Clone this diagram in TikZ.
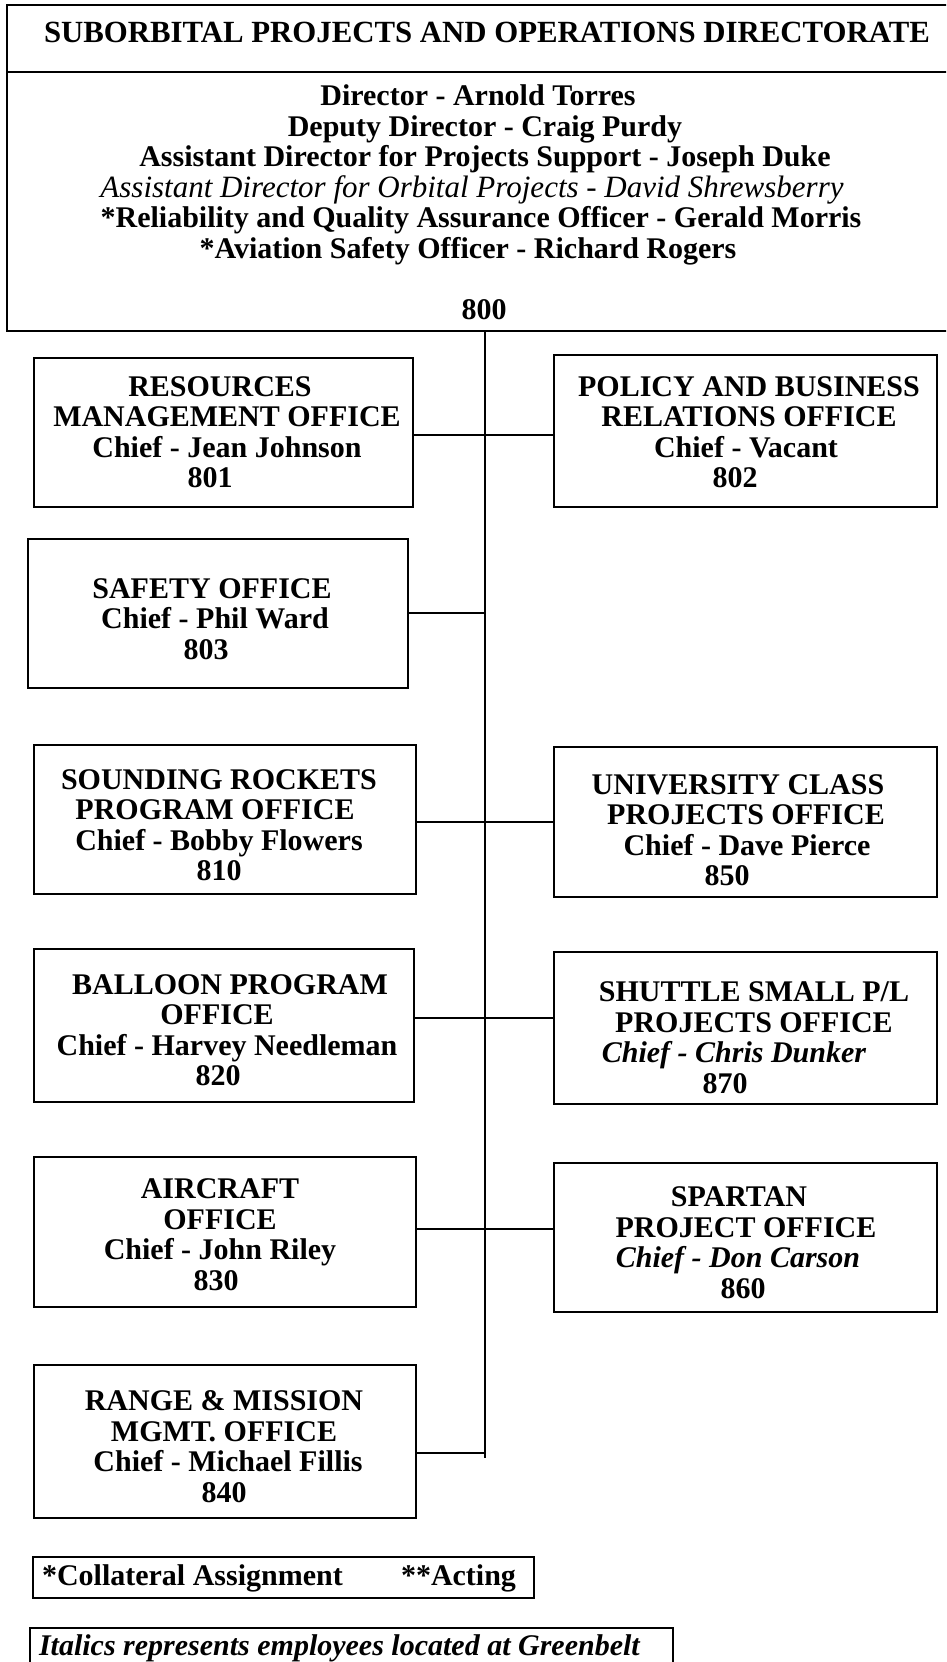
\documentclass[tikz,border=0pt]{standalone}
\usepackage{fontspec}
\setmainfont{Liberation Serif}
\newcommand\itl[1]{{\mdseries\itshape #1}}
\newcommand\itb[1]{{\itshape #1}}
\begin{document}
\begin{tikzpicture}[x=1pt,y=-1pt,
  every node/.style={inner sep=0pt,outer sep=0pt},
  box/.style={draw,line width=2.2pt,rectangle,inner sep=0pt},
  topbox/.style={draw,line width=2.4pt,rectangle,inner sep=0pt},
  txt/.style={align=center,font=\fontsize{30}{30.5}\selectfont\bfseries},
  conn/.style={line width=2pt}]
\useasboundingbox (0,0) rectangle (946,1662);
\fill[white] (0,0) rectangle (946,1662);
\clip (0,0) rectangle (946,1662);

% top directorate box
\node[topbox,minimum width=956,minimum height=326] (top) at (485,168) {};
\coordinate (div) at (0,72);
\draw[line width=2.4pt] (top.west |- div) -- (top.east |- div);
\node[txt,anchor=base,font=\fontsize{30.8}{31}\selectfont\bfseries] (title) at (487,43) {SUBORBITAL PROJECTS AND OPERATIONS DIRECTORATE};
\node[txt] (toptext) at (481,202) {Director - Arnold Torres\kern6pt\\
\kern8pt Deputy Director - Craig Purdy\\
\kern8pt Assistant Director for Projects Support - Joseph Duke\\
{\fontsize{31}{30.5}\selectfont\itl{Assistant Director for Orbital Projects - David Shrewsberry}}\kern18pt\\
*Reliability and Quality Assurance Officer - Gerald Morris\\
*Aviation Safety Officer - Richard Rogers\kern26pt\\[30.5pt]
\kern6pt 800};

% office boxes
\node[box,minimum width=379,minimum height=149] (b801) at (223.5,432.5) {};
\node[box,minimum width=383,minimum height=152] (b802) at (745.5,431) {};
\node[box,minimum width=380,minimum height=149] (b803) at (218,613.5) {};
\node[box,minimum width=382,minimum height=149] (b810) at (225,819.5) {};
\node[box,minimum width=383,minimum height=150] (b850) at (745.5,822) {};
\node[box,minimum width=380,minimum height=153] (b820) at (224,1025.5) {};
\node[box,minimum width=383,minimum height=152] (b870) at (745.5,1028) {};
\node[box,minimum width=382,minimum height=150] (b830) at (225,1232) {};
\node[box,minimum width=383,minimum height=149] (b860) at (745.5,1237.5) {};
\node[box,minimum width=382,minimum height=153] (b840) at (225,1441.5) {};

% office texts
\node[txt] (t801) at (227,432) {RESOURCES\kern14pt\\MANAGEMENT OFFICE\\Chief - Jean Johnson\\801\kern34pt};
\node[txt] (t802) at (749,432) {POLICY AND BUSINESS\\RELATIONS OFFICE\\Chief - Vacant\kern6pt\\802\kern28pt};
\node[txt] (t803) at (212,619) {SAFETY OFFICE\\\kern6pt Chief - Phil Ward\\803\kern12pt};
\node[txt] (t810) at (219,825) {SOUNDING ROCKETS\\PROGRAM OFFICE\kern8pt\\Chief - Bobby Flowers\\810};
\node[txt] (t850) at (738,830) {UNIVERSITY CLASS\\\kern16pt PROJECTS OFFICE\\\kern18pt Chief - Dave Pierce\\850\kern22pt};
\node[txt] (t820) at (227,1030) {\kern6pt BALLOON PROGRAM\\OFFICE\kern20pt\\Chief - Harvey Needleman\\820\kern18pt};
\node[txt] (t870) at (754,1037.5) {SHUTTLE SMALL P/L\\PROJECTS OFFICE\\\itb{Chief - Chris Dunker}\kern40pt\\870\kern58pt};
\node[txt] (t830) at (220,1234.5) {AIRCRAFT\\OFFICE\\Chief - John Riley\\830\kern8pt};
\node[txt] (t860) at (746,1242.5) {SPARTAN\kern14pt\\PROJECT OFFICE\\\itb{Chief - Don Carson}\kern16pt\\860\kern6pt};
\node[txt] (t840) at (224,1446.5) {RANGE \& MISSION\\MGMT. OFFICE\\\kern8pt Chief - Michael Fillis\\840};

% footer boxes
\node[box,minimum width=501,minimum height=41] (legend) at (283.5,1577.5) {};
\node[txt,anchor=base west] (coll) at (42,1585) {*Collateral Assignment};
\node[txt,anchor=base west] (acting) at (401,1585) {**Acting};
\node[box,minimum width=643,minimum height=67] (note) at (351.5,1661.5) {};
\node[txt,anchor=base west] (notetext) at (39,1655) {\itb{Italics represents employees located at Greenbelt}};

% connectors
\coordinate (trunkend) at (485,1458);
\coordinate (j1) at (485,435);
\coordinate (j2) at (485,613);
\coordinate (j3) at (485,822);
\coordinate (j4) at (485,1018);
\coordinate (j5) at (485,1229);
\coordinate (j6) at (485,1453);
\draw[conn] (top.south) -- (trunkend);
\draw[conn] (b801.east |- j1) -- (b802.west |- j1);
\draw[conn] (b803.east |- j2) -- (j2);
\draw[conn] (b810.east |- j3) -- (b850.west |- j3);
\draw[conn] (b820.east |- j4) -- (b870.west |- j4);
\draw[conn] (b830.east |- j5) -- (b860.west |- j5);
\draw[conn] (b840.east |- j6) -- (j6);
\end{tikzpicture}
\end{document}
